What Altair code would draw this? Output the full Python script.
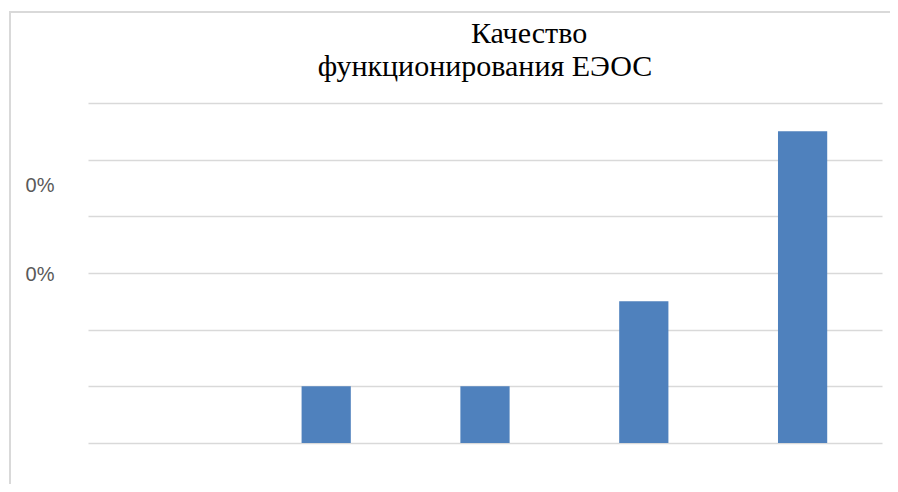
import altair as alt
import pandas as pd

categories = ["1", "2", "3", "4", "5"]
values = [0, 1, 1, 2.5, 5.5]
grid_values = [0, 1, 2, 3, 4, 5, 6]
label_values = [2.97, 4.55]
label_text = "0%"
title_line1 = "Качество"
title_line2 = "функционирования ЕЭОС"

df = pd.DataFrame({"cat": categories, "val": values})

tick_vals = sorted(grid_values + label_values)
label_test = " || ".join(f"datum.value == {v}" for v in label_values)

bars = alt.Chart(df).mark_bar(color="#4f81bd").encode(
    x=alt.X("cat:N", sort=categories, title=None,
            scale=alt.Scale(paddingInner=0.69, paddingOuter=0.345),
            axis=alt.Axis(labels=False, ticks=False, domain=False)),
    y=alt.Y("val:Q", title=None,
            scale=alt.Scale(domain=[0, 6], nice=False),
            axis=alt.Axis(values=tick_vals, domain=False, ticks=False,
                          gridColor="#d9d9d9", gridWidth=1.5,
                          gridOpacity={"condition": {"test": label_test, "value": 0}, "value": 1},
                          labelExpr=f"({label_test}) ? '{label_text}' : ''",
                          labelFont="Liberation Sans", labelFontSize=20,
                          labelColor="#595959", labelPadding=34)),
)

one = pd.DataFrame({"k": [0]})

border = alt.Chart(one).mark_rect(
    fill=None, stroke="#d9d9d9", strokeWidth=2, clip=False
).encode(
    x=alt.value(-78), x2=alt.value(900), y=alt.value(-91), y2=alt.value(420)
)

t1 = alt.Chart(pd.DataFrame({"t": [title_line1]})).mark_text(
    font="serif", fontSize=30, color="#000000", align="center",
    baseline="alphabetic", clip=False
).encode(text="t:N", x=alt.value(441), y=alt.value(-60))

t2 = alt.Chart(pd.DataFrame({"t": [title_line2]})).mark_text(
    font="serif", fontSize=30, color="#000000", align="center",
    baseline="alphabetic", clip=False
).encode(text="t:N", x=alt.value(397), y=alt.value(-27))

chart = alt.layer(border, bars, t1, t2).properties(
    width=794, height=340,
    autosize=alt.AutoSizeParams(type="none"),
    padding={"left": 80, "top": 95, "right": 8, "bottom": 41},
).configure_view(stroke=None)

chart.save("out.html", embed_options={"renderer": "svg", "actions": False})
